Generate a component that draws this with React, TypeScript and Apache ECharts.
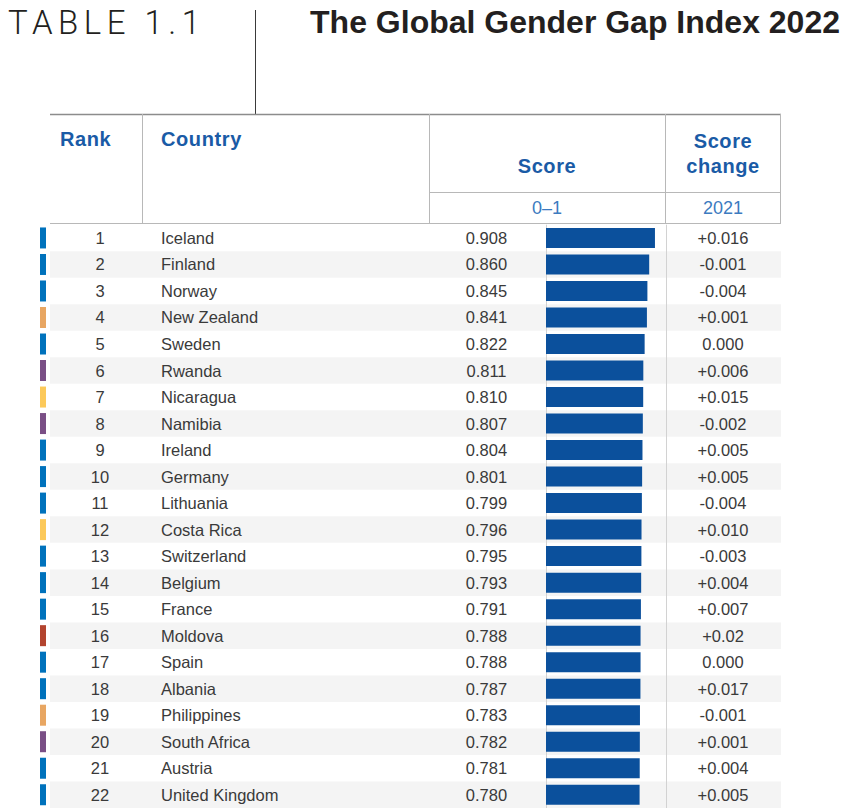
import React, { useEffect, useRef } from "react";
import * as echarts from "echarts";

const tableLabel = "TABLE 1.1";
const titleText = "The Global Gender Gap Index 2022";
const headRank = "Rank";
const headCountry = "Country";
const headScore = "Score";
const headChange = ["Score", "change"];
const subScore = "0–1";
const subChange = "2021";

const ranks = [1, 2, 3, 4, 5, 6, 7, 8, 9, 10, 11, 12, 13, 14, 15, 16, 17, 18, 19, 20, 21, 22];
const countries = [
  "Iceland", "Finland", "Norway", "New Zealand", "Sweden", "Rwanda", "Nicaragua", "Namibia",
  "Ireland", "Germany", "Lithuania", "Costa Rica", "Switzerland", "Belgium", "France", "Moldova",
  "Spain", "Albania", "Philippines", "South Africa", "Austria", "United Kingdom",
];
const scores = [
  0.908, 0.86, 0.845, 0.841, 0.822, 0.811, 0.81, 0.807, 0.804, 0.801, 0.799,
  0.796, 0.795, 0.793, 0.791, 0.788, 0.788, 0.787, 0.783, 0.782, 0.781, 0.78,
];
const scoreChanges = [
  "+0.016", "-0.001", "-0.004", "+0.001", "0.000", "+0.006", "+0.015", "-0.002", "+0.005", "+0.005", "-0.004",
  "+0.010", "-0.003", "+0.004", "+0.007", "+0.02", "0.000", "+0.017", "-0.001", "+0.001", "+0.004", "+0.005",
];
const regions = [
  "Europe", "Europe", "Europe", "East Asia and the Pacific", "Europe", "Sub-Saharan Africa",
  "Latin America and the Caribbean", "Sub-Saharan Africa", "Europe", "Europe", "Europe",
  "Latin America and the Caribbean", "Europe", "Europe", "Europe", "Eastern Europe and Central Asia",
  "Europe", "Europe", "East Asia and the Pacific", "Sub-Saharan Africa", "Europe", "Europe",
];
const regionColors: Record<string, string> = {
  "Europe": "#0072bc",
  "East Asia and the Pacific": "#e8a662",
  "Sub-Saharan Africa": "#7a4f86",
  "Latin America and the Caribbean": "#fcc95a",
  "Eastern Europe and Central Asia": "#b3442f",
};

const FONT = "'Liberation Sans', Arial, Helvetica, sans-serif";
const ROW_TOP = 224.7;
const ROW_H = 26.57;
const TEXT_COLOR = "#3a3a3a";
const HEAD_BLUE = "#1a5ba6";
const SUB_BLUE = "#3c7bc0";
const RULE = "#b8b8b8";

export default function App() {
  const ref = useRef<HTMLDivElement>(null);
  useEffect(() => {
    if (!ref.current) return;
    const chart = echarts.init(ref.current, undefined, { renderer: "svg" });

    const vline = (x: number, y1: number, y2: number, stroke: string, w = 1) => ({
      type: "line",
      shape: { x1: x, y1, x2: x, y2 },
      style: { stroke, lineWidth: w },
      z: 10,
    });
    const hline = (y: number, x1: number, x2: number, stroke: string, w = 1) => ({
      type: "line",
      shape: { x1, y1: y, x2, y2: y },
      style: { stroke, lineWidth: w },
      z: 10,
    });
    const htext = (text: string, x: number, y: number, align: string, bold = true, size = 20, fill = HEAD_BLUE) => ({
      type: "text",
      z: 10,
      style: {
        text,
        x,
        y,
        align,
        verticalAlign: "middle",
        fill,
        fontSize: size,
        fontWeight: bold ? "bold" : "normal",
        fontFamily: FONT,
      },
    });

    const option: any = {
      animation: false,
      grid: { left: 546, top: ROW_TOP, width: 120, height: ROW_H * countries.length },
      xAxis: {
        type: "value",
        min: 0,
        max: 1,
        interval: 1,
        axisLabel: { show: false },
        axisTick: { show: false },
        axisLine: { show: false },
        splitLine: { show: true, lineStyle: { color: "#d2d2d2", width: 1 } },
        z: 2,
      },
      yAxis: {
        type: "category",
        data: countries,
        inverse: true,
        axisLabel: { show: false },
        axisTick: { show: false },
        axisLine: { show: false },
        splitLine: { show: false },
      },
      series: [
        {
          type: "custom",
          z: 1,
          clip: false,
          silent: true,
          data: countries.map((c, i) => [0, i]),
          renderItem: (params: any, api: any) => {
            const i = params.dataIndex;
            const pt = api.coord([0, api.value(1)]);
            const y = pt[1];
            const h = api.size([0, 1])[1];
            const children: any[] = [];
            if (i % 2 === 1) {
              children.push({
                type: "rect",
                shape: { x: 50, y: y - h / 2, width: 731, height: h },
                style: { fill: "#f4f4f4" },
              });
            }
            children.push({
              type: "rect",
              shape: { x: 40, y: y - 10.5, width: 6, height: 21 },
              style: { fill: regionColors[regions[i]] },
            });
            const txt = (text: string, x: number, align: string) => ({
              type: "text",
              style: {
                text,
                x,
                y,
                align,
                verticalAlign: "middle",
                fill: TEXT_COLOR,
                fontSize: 16.5,
                fontFamily: FONT,
              },
            });
            children.push(txt(String(ranks[i]), 100, "center"));
            children.push(txt(countries[i], 161, "left"));
            children.push(txt(scores[i].toFixed(3), 486.5, "center"));
            children.push(txt(scoreChanges[i], 723, "center"));
            return { type: "group", children };
          },
        },
        {
          type: "bar",
          z: 3,
          data: scores,
          barWidth: 20,
          itemStyle: { color: "#0b509c" },
        },
      ],
      graphic: [
        {
          type: "text",
          z: 10,
          style: {
            text: tableLabel,
            x: 8,
            y: 22,
            align: "left",
            verticalAlign: "middle",
            fill: "#231f20",
            fontSize: 33,
            fontWeight: 300,
            fontFamily: "Roboto, 'Open Sans', sans-serif",
          },
        },
        {
          type: "text",
          z: 10,
          style: {
            text: titleText,
            x: 840,
            y: 21.5,
            align: "right",
            verticalAlign: "middle",
            fill: "#231f20",
            fontSize: 32,
            fontWeight: "bold",
            fontFamily: FONT,
          },
        },
        vline(255.5, 10, 114, "#3a3a3a", 1),
        hline(114.5, 50, 781, "#8c8c8c", 1.5),
        vline(142.5, 114, 223, RULE),
        vline(429.5, 114, 223, RULE),
        vline(665.5, 114, 223, RULE),
        vline(780.5, 114, 223, RULE),
        hline(192.5, 429, 781, RULE),
        hline(223.5, 50, 781, RULE),
        htext(headRank, 60, 139, "left"),
        htext(headCountry, 161, 139, "left"),
        htext(headScore, 547, 166, "center"),
        htext(headChange[0], 723, 140.5, "center"),
        htext(headChange[1], 723, 166, "center"),
        htext(subScore, 547, 208, "center", false, 18, SUB_BLUE),
        htext(subChange, 723, 208, "center", false, 18, SUB_BLUE),
      ],
    };
    chart.setOption(option);

    const spaceLabel = () => {
      if (!ref.current) return;
      ref.current.querySelectorAll("text").forEach((t) => {
        if (t.textContent === tableLabel) t.setAttribute("letter-spacing", "5.5");
        else if (t.textContent === headRank || t.textContent === headCountry || t.textContent === headScore || t.textContent === "change")
          t.setAttribute("letter-spacing", "0.6");
      });
    };
    spaceLabel();
    chart.on("finished", spaceLabel);
    return () => chart.dispose();
  }, []);
  return (
    <div
      ref={ref}
      style={{ position: "fixed", left: 0, top: 0, width: 850, height: 808, background: "#ffffff" }}
    />
  );
}
